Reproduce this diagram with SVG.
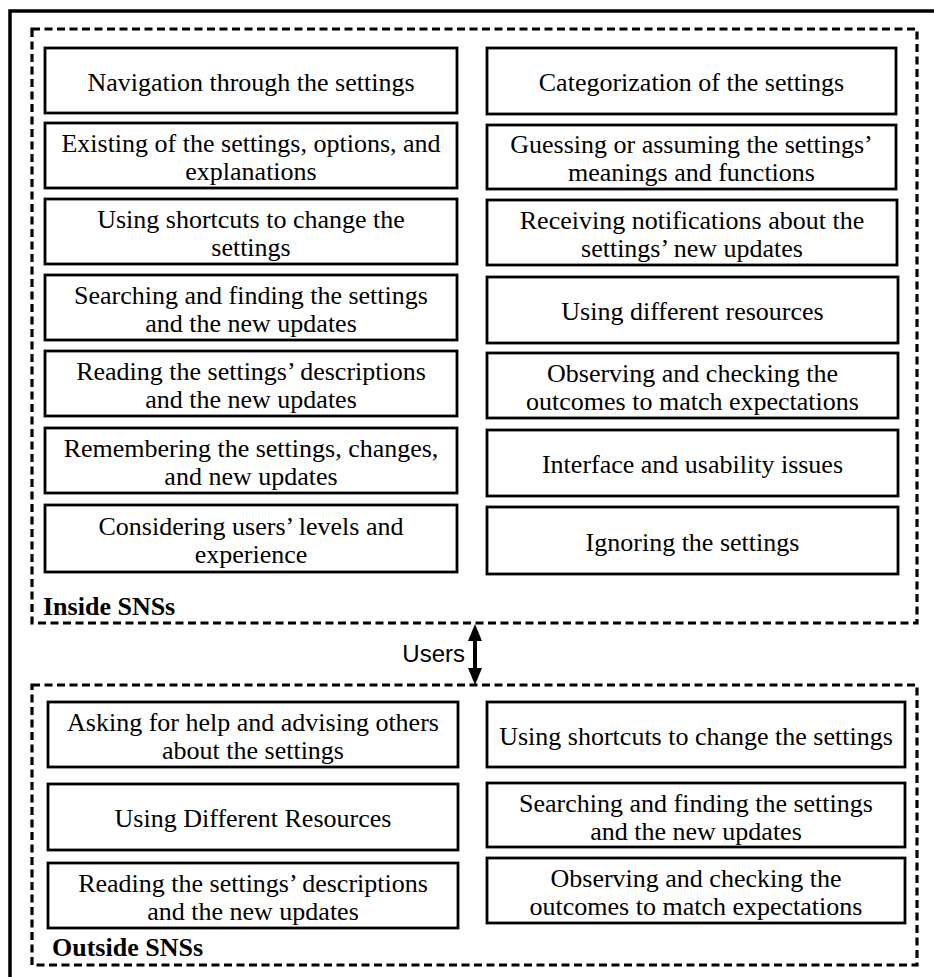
<svg xmlns="http://www.w3.org/2000/svg" width="934" height="977" viewBox="0 0 934 977">
  <style>
    .frame { fill: none; stroke: #000; stroke-width: 3.5; }
    .group { fill: none; stroke: #000; stroke-width: 3.2; stroke-dasharray: 8 4.5; }
    .box { fill: #fff; stroke: #000; stroke-width: 2.8; }
    .t { font-family: "Liberation Serif", "Times New Roman", serif; font-size: 26px; fill: #000; text-anchor: middle; }
    .lbl { font-family: "Liberation Serif", "Times New Roman", serif; font-size: 26px; font-weight: bold; fill: #000; }
    .users { font-family: "Liberation Sans", Arial, sans-serif; font-size: 24px; fill: #000; text-anchor: end; }
  </style>

  <rect width="934" height="977" fill="#fff"/>
  <!-- outer frame -->
  <rect class="frame" x="10" y="11" width="940" height="990"/>

  <!-- group outlines -->
  <g id="inside-sns">
    <rect class="group" x="32" y="29" width="885" height="594"/>
    <text class="lbl" x="43" y="615">Inside SNSs</text>
  </g>
  <g id="outside-sns">
    <rect class="group" x="32" y="685" width="885" height="280"/>
    <text class="lbl" x="52" y="956">Outside SNSs</text>
  </g>

  <!-- Inside SNSs, left column -->
  <g id="in-l1"><rect class="box" x="45" y="48" width="412" height="65"/><text class="t" x="251" y="91">Navigation through the settings</text></g>
  <g id="in-l2"><rect class="box" x="45" y="123" width="412" height="65"/><text class="t" x="251" y="152">Existing of the settings, options, and</text><text class="t" x="251" y="180">explanations</text></g>
  <g id="in-l3"><rect class="box" x="45" y="199" width="412" height="65"/><text class="t" x="251" y="228">Using shortcuts to change the</text><text class="t" x="251" y="256">settings</text></g>
  <g id="in-l4"><rect class="box" x="45" y="275" width="412" height="65"/><text class="t" x="251" y="304">Searching and finding the settings</text><text class="t" x="251" y="332">and the new updates</text></g>
  <g id="in-l5"><rect class="box" x="45" y="351" width="412" height="65"/><text class="t" x="251" y="380">Reading the settings’ descriptions</text><text class="t" x="251" y="408">and the new updates</text></g>
  <g id="in-l6"><rect class="box" x="45" y="428" width="412" height="65"/><text class="t" x="251" y="457">Remembering the settings, changes,</text><text class="t" x="251" y="485">and new updates</text></g>
  <g id="in-l7"><rect class="box" x="45" y="505" width="412" height="67"/><text class="t" x="251" y="535">Considering users’ levels and</text><text class="t" x="251" y="563">experience</text></g>

  <!-- Inside SNSs, right column -->
  <g id="in-r1"><rect class="box" x="487" y="48" width="409" height="66"/><text class="t" x="691.5" y="91">Categorization of the settings</text></g>
  <g id="in-r2"><rect class="box" x="487" y="125" width="409" height="64"/><text class="t" x="691.5" y="153">Guessing or assuming the settings’</text><text class="t" x="691.5" y="181">meanings and functions</text></g>
  <g id="in-r3"><rect class="box" x="487" y="200" width="410" height="65"/><text class="t" x="692" y="229">Receiving notifications about the</text><text class="t" x="692" y="257">settings’ new updates</text></g>
  <g id="in-r4"><rect class="box" x="487" y="277" width="411" height="66"/><text class="t" x="692.5" y="320">Using different resources</text></g>
  <g id="in-r5"><rect class="box" x="487" y="353" width="411" height="65"/><text class="t" x="692.5" y="382">Observing and checking the</text><text class="t" x="692.5" y="410">outcomes to match expectations</text></g>
  <g id="in-r6"><rect class="box" x="487" y="430" width="411" height="66"/><text class="t" x="692.5" y="473">Interface and usability issues</text></g>
  <g id="in-r7"><rect class="box" x="487" y="507" width="411" height="67"/><text class="t" x="692.5" y="551">Ignoring the settings</text></g>

  <!-- Outside SNSs, left column -->
  <g id="out-l1"><rect class="box" x="48" y="702" width="410" height="65"/><text class="t" x="253" y="731">Asking for help and advising others</text><text class="t" x="253" y="759">about the settings</text></g>
  <g id="out-l2"><rect class="box" x="48" y="784" width="410" height="66"/><text class="t" x="253" y="827">Using Different Resources</text></g>
  <g id="out-l3"><rect class="box" x="48" y="863" width="410" height="65"/><text class="t" x="253" y="892">Reading the settings’ descriptions</text><text class="t" x="253" y="920">and the new updates</text></g>

  <!-- Outside SNSs, right column -->
  <g id="out-r1"><rect class="box" x="487" y="702" width="418" height="65"/><text class="t" x="696" y="745">Using shortcuts to change the settings</text></g>
  <g id="out-r2"><rect class="box" x="487" y="783" width="418" height="64"/><text class="t" x="696" y="812">Searching and finding the settings</text><text class="t" x="696" y="840">and the new updates</text></g>
  <g id="out-r3"><rect class="box" x="487" y="858" width="418" height="65"/><text class="t" x="696" y="887">Observing and checking the</text><text class="t" x="696" y="915">outcomes to match expectations</text></g>

  <!-- connector between the two groups -->
  <g id="connectors">
    <line x1="475" y1="640" x2="475" y2="670" stroke="#000" stroke-width="4"/>
    <path d="M475,624 L482,641 L468,641 Z" fill="#000"/>
    <path d="M475,685 L482,668 L468,668 Z" fill="#000"/>
    <text class="users" x="465" y="662">Users</text>
  </g>
</svg>
